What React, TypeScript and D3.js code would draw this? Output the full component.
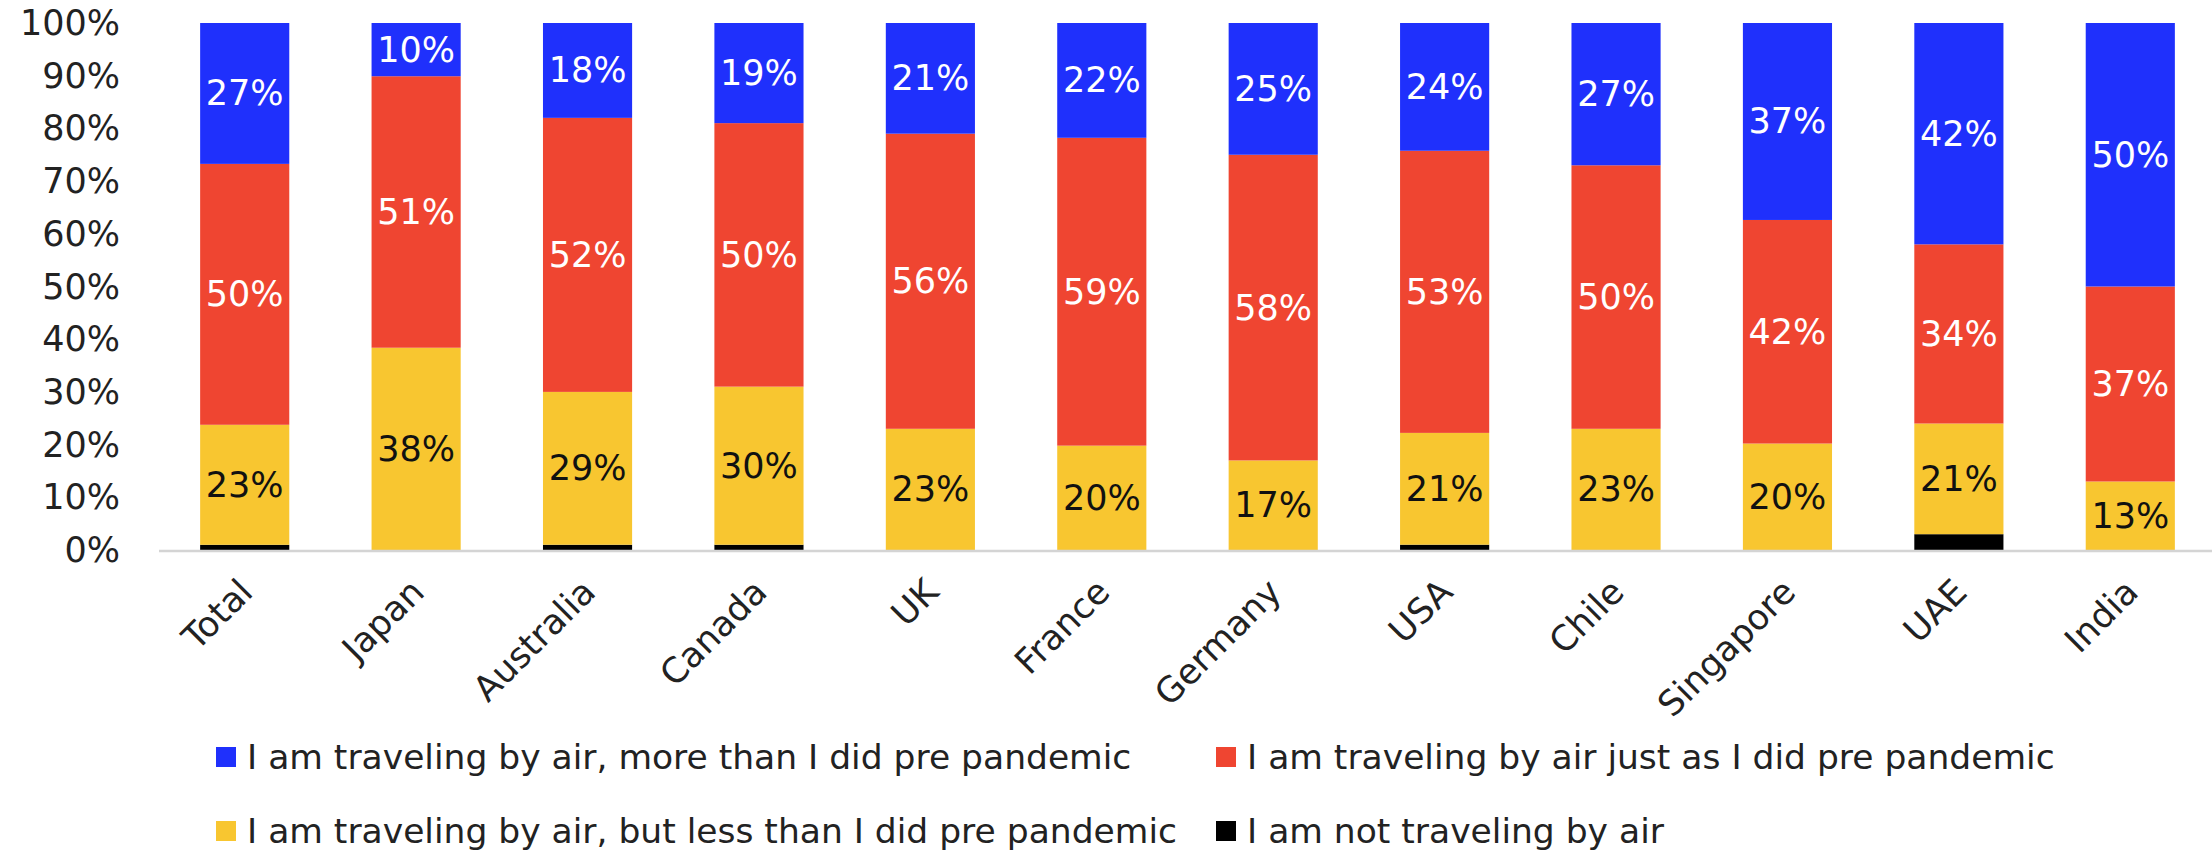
import React from "react";
import * as d3 from "d3";

const categories = ["Total", "Japan", "Australia", "Canada", "UK", "France", "Germany", "USA", "Chile", "Singapore", "UAE", "India"];
const moreThanBefore = [27, 10, 18, 19, 21, 22, 25, 24, 27, 37, 42, 50];
const sameAsBefore = [50, 51, 52, 50, 56, 59, 58, 53, 50, 42, 34, 37];
const lessThanBefore = [23, 38, 29, 30, 23, 20, 17, 21, 23, 20, 21, 13];
const notTraveling = [1, 0, 1, 1, 0, 0, 0, 1, 0, 0, 3, 0];
const yTicks = [0, 0.1, 0.2, 0.3, 0.4, 0.5, 0.6, 0.7, 0.8, 0.9, 1];

const seriesKeys = ["not", "less", "same", "more"];
const seriesLabels: Record<string, string> = {
  more: "I am traveling by air, more than I did pre pandemic",
  same: "I am traveling by air just as I did pre pandemic",
  less: "I am traveling by air, but less than I did pre pandemic",
  not: "I am not traveling by air",
};
const seriesColors: Record<string, string> = {
  more: "#1F30FC",
  same: "#EF4531",
  less: "#F8C630",
  not: "#000000",
};
const labelColors: Record<string, string> = {
  more: "#FFFFFF",
  same: "#FFFFFF",
  less: "#111111",
  not: "#FFFFFF",
};
const legendRows = [["more", "same"], ["less", "not"]];

const W = 2212;
const H = 850;
const FONT = "'DejaVu Sans', Verdana, sans-serif";

export default function App() {
  const rows = categories.map((c, i) => ({
    category: c,
    more: moreThanBefore[i],
    same: sameAsBefore[i],
    less: lessThanBefore[i],
    not: notTraveling[i],
  }));

  const stacked = d3
    .stack<any>()
    .keys(seriesKeys)
    .offset(d3.stackOffsetExpand)(rows);

  const x = d3
    .scaleBand<string>()
    .domain(categories)
    .range([159, 2216])
    .paddingInner(0.48)
    .paddingOuter(0.24);

  const y = d3.scaleLinear().domain([0, 1]).range([550, 23]);
  const fmt = d3.format(".0%");

  return (
    <svg
      width={W}
      height={H}
      style={{ position: "absolute", left: 0, top: 0, display: "block", background: "#fff" }}
      fontFamily={FONT}
    >
      {/* y axis labels */}
      <g>
        {yTicks.map((t) => (
          <text
            key={t}
            x={120}
            y={y(t)}
            textAnchor="end"
            dominantBaseline="central"
            fontSize={35}
            fill="#222"
          >
            {fmt(t)}
          </text>
        ))}
      </g>

      {/* bars */}
      <g>
        {stacked.map((layer) => (
          <g key={layer.key} fill={seriesColors[layer.key]}>
            {layer.map((d, i) => {
              const y0 = y(d[0]);
              const y1 = y(d[1]);
              if (y0 - y1 <= 0) return null;
              return (
                <rect
                  key={categories[i]}
                  x={x(categories[i])}
                  y={y1}
                  width={x.bandwidth()}
                  height={y0 - y1}
                />
              );
            })}
          </g>
        ))}
      </g>

      {/* axis line */}
      <line x1={159} x2={W} y1={y(0) + 1} y2={y(0) + 1} stroke="#d4d4d4" strokeWidth={2.5} />

      {/* data labels */}
      <g>
        {stacked
          .filter((layer) => layer.key !== "not")
          .map((layer) =>
            layer.map((d, i) => {
              const raw = (rows[i] as any)[layer.key];
              if (!raw) return null;
              const cx = (x(categories[i]) as number) + x.bandwidth() / 2;
              const cy = (y(d[0]) + y(d[1])) / 2;
              return (
                <text
                  key={layer.key + categories[i]}
                  x={cx}
                  y={cy}
                  textAnchor="middle"
                  dominantBaseline="central"
                  fontSize={35}
                  fill={labelColors[layer.key]}
                >
                  {raw}%
                </text>
              );
            })
          )}
      </g>

      {/* x axis labels */}
      <g>
        {categories.map((c) => {
          const cx = (x(c) as number) + x.bandwidth() / 2;
          return (
            <text
              key={c}
              transform={`translate(${cx + 10},${594}) rotate(-45)`}
              textAnchor="end"
              fontSize={35}
              fill="#222"
            >
              {c}
            </text>
          );
        })}
      </g>

      {/* legend */}
      <g>
        {legendRows.map((row, ri) =>
          row.map((key, ci) => {
            const lx = ci === 0 ? 216 : 1216;
            const ly = 757 + ri * 74;
            return (
              <g key={key} transform={`translate(${lx},${ly})`}>
                <rect x={0} y={-10} width={20} height={20} fill={seriesColors[key]} />
                <text x={31} y={0} dominantBaseline="central" fontSize={34.5} fill="#222">
                  {seriesLabels[key]}
                </text>
              </g>
            );
          })
        )}
      </g>
    </svg>
  );
}
